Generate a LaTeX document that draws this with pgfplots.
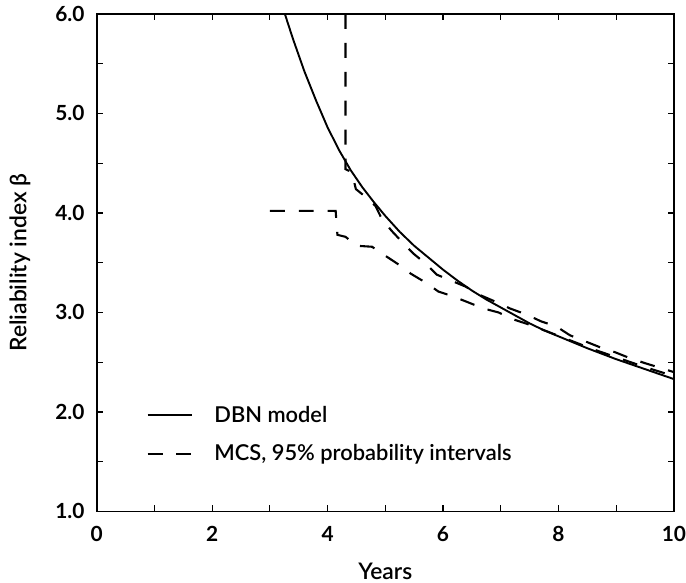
\documentclass[border=0pt]{standalone}
\usepackage{fontspec}
\setmainfont{Lato}
\newfontfamily\semib{Lato Semibold}
\usepackage{pgfplots}
\usepackage{pgfplotstable}
\pgfplotsset{compat=1.18}

% DBN model (solid)
\pgfplotstableread{
x y
3.26 6.00
3.40 5.75
3.60 5.42
3.80 5.13
4.00 4.86
4.20 4.63
4.40 4.43
4.60 4.26
4.80 4.11
5.00 3.97
5.25 3.81
5.50 3.67
5.75 3.55
6.00 3.43
6.25 3.32
6.50 3.22
6.75 3.13
7.00 3.05
7.25 2.97
7.50 2.89
7.75 2.82
8.00 2.76
8.50 2.64
9.00 2.53
9.50 2.43
10.00 2.33
}\dbndata

% MCS upper bound
\pgfplotstableread{
x y
4.31 6.00
4.31 4.44
4.42 4.41
4.49 4.24
4.66 4.16
4.83 4.07
4.94 3.94
5.11 3.82
5.32 3.69
5.49 3.59
5.72 3.48
5.89 3.38
6.18 3.31
6.39 3.26
6.62 3.18
6.90 3.11
7.16 3.04
7.44 2.98
7.70 2.91
7.96 2.86
8.20 2.77
8.46 2.71
8.72 2.65
8.98 2.60
9.24 2.54
9.50 2.49
9.78 2.44
10.00 2.40
}\mcsup

% MCS lower bound
\pgfplotstableread{
x y
3.00 4.02
4.14 4.02
4.17 3.78
4.31 3.76
4.51 3.67
4.77 3.66
5.00 3.57
5.26 3.47
5.44 3.39
5.70 3.30
5.92 3.21
6.18 3.16
6.44 3.10
6.70 3.04
6.96 3.00
7.22 2.93
7.48 2.88
7.80 2.81
8.20 2.72
8.60 2.63
9.00 2.55
9.50 2.45
10.00 2.36
}\mcslow

\begin{document}
\begin{tikzpicture}
\begin{axis}[
  width=579bp, height=499bp, scale only axis,
  xmin=0, xmax=10, ymin=1, ymax=6,
  xtick={0,2,...,10}, minor xtick={1,3,...,9},
  ytick={1,2,...,6}, minor ytick={1.5,2.5,...,5.5},
  tick align=inside, major tick length=6bp, minor tick length=6bp,
  tick style={line width=1.2bp, black},
  axis line style={line width=1.8bp},
  /pgf/number format/assume math mode=true,
  yticklabel style={/pgf/number format/fixed, /pgf/number format/fixed zerofill,
    /pgf/number format/precision=1, inner sep=0pt, xshift=-12bp},
  ticklabel style={font=\fontsize{21}{22}\selectfont\bfseries},
  xticklabel style={inner sep=0pt, yshift=-15bp},
  xlabel={Years}, ylabel={Reliability index β},
  label style={font=\fontsize{23}{24}\selectfont\semib},
  xlabel style={at={(axis description cs:0.5,-0.12)}, anchor=center},
  ylabel style={at={(axis description cs:-0.133,0.5)}, anchor=center},
  legend style={draw=none, fill=none, at={(0.086,0.212)}, anchor=north west,
    inner sep=0pt, nodes={inner sep=0pt},
    font=\fontsize{22}{24}\selectfont\semib, row sep=21bp, column sep=21bp},
  legend cell align=left,
  legend image code/.code={\draw[#1] (0bp,0bp) -- (45bp,0bp);},
]
\addplot[black, line width=1.9bp] table {\dbndata};
\addlegendentry{DBN model}
\addplot[black, line width=2.1bp, dash pattern=on 15bp off 14bp] table {\mcsup};
\addlegendentry{MCS, 95\% probability intervals}
\addplot[black, line width=2.1bp, dash pattern=on 15bp off 14bp, forget plot] table {\mcslow};
\end{axis}
\path ([xshift=-97bp,yshift=-71bp]current axis.south west)
  rectangle ([xshift=10bp,yshift=14bp]current axis.north east);
\end{tikzpicture}
\end{document}
